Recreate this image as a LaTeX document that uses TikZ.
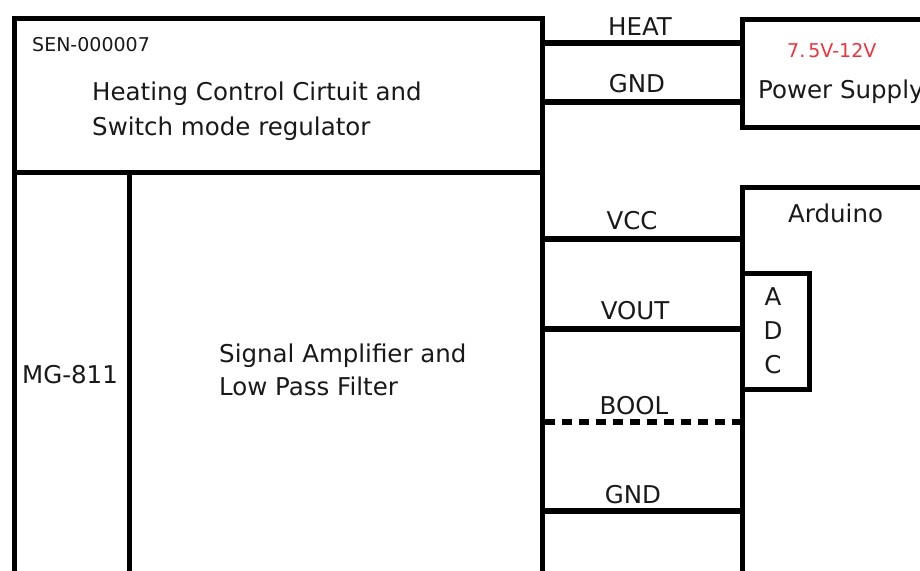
\documentclass[tikz,border=0pt]{standalone}
\usepackage{fontspec}
\setmainfont{DejaVu Sans}
\definecolor{voltred}{RGB}{240,50,60}
\begin{document}
\begin{tikzpicture}[x=1pt,y=-1pt,
  box/.style={draw=black,line width=5pt,rectangle,inner sep=0pt,anchor=north west},
  wire/.style={draw=black,line width=5.5pt},
  big/.style={font=\fontsize{24.5}{29}\selectfont,inner sep=0pt,text=black!90},
  small/.style={font=\fontsize{19}{23}\selectfont,inner sep=0pt},
  lbl/.style={big,anchor=base}]
\useasboundingbox (0,0) rectangle (920,570);
\clip (0,0) rectangle (920,570);
% boxes
\node[box,minimum width=528pt,minimum height=154pt] (sen) at (12,16) {};
\node[box,minimum width=115pt,minimum height=430pt] (mg) at (12,170) {};
\node[box,minimum width=413pt,minimum height=430pt] (amp) at (127,170) {};
\node[box,minimum width=220pt,minimum height=108pt] (psu) at (740,17) {};
\node[box,minimum width=220pt,minimum height=415pt] (ard) at (740,185) {};
\node[box,fill=white,minimum width=67pt,minimum height=116pt] (adc) at (740,271) {};
% texts
\node[small,anchor=base west,text=black!90] (senid) at (32,51) {SEN-000007};
\node[big,anchor=base west] (heat1) at (92,100) {Heating Control Cirtuit and};
\node[big,anchor=base west] (heat2) at (92,135) {Switch mode regulator};
\node[big,anchor=base] (mgtext) at (70,383) {MG-811};
\node[big,anchor=base west] (amp1) at (219,362) {Signal Amplifier and};
\node[big,anchor=base west] (amp2) at (219,395) {Low Pass Filter};
\node[small,anchor=base west,text=voltred] (volt) at (787,57) {7.\kern3pt5V-12V};
\node[big,anchor=base west] (psutext) at (758,98) {Power Supply};
\node[big,anchor=base west] (ardtext) at (788,222) {Arduino};
\node[lbl] (adcA) at (773,305) {A};
\node[lbl] (adcD) at (773,339) {D};
\node[lbl] (adcC) at (773,373) {C};
% wires
\draw[wire] (sen.east |- 0,43) -- (psu.west |- 0,43);
\draw[wire] (sen.east |- 0,102) -- (psu.west |- 0,102);
\draw[wire] (amp.east |- 0,239) -- (ard.west |- 0,239);
\draw[wire] (amp.east |- 0,329) -- (adc.west |- 0,329);
\draw[wire,dash pattern=on 10pt off 7pt] (amp.east |- 0,422) -- (ard.west |- 0,422);
\draw[wire] (amp.east |- 0,511) -- (ard.west |- 0,511);
% wire labels
\node[lbl] (lheat) at (640,35) {HEAT};
\node[lbl] (lgnd1) at (637,92) {GND};
\node[lbl] (lvcc) at (632,229) {VCC};
\node[lbl] (lvout) at (635,319) {VOUT};
\node[lbl] (lbool) at (634,414) {BOOL};
\node[lbl] (lgnd2) at (633,503) {GND};
\end{tikzpicture}
\end{document}
